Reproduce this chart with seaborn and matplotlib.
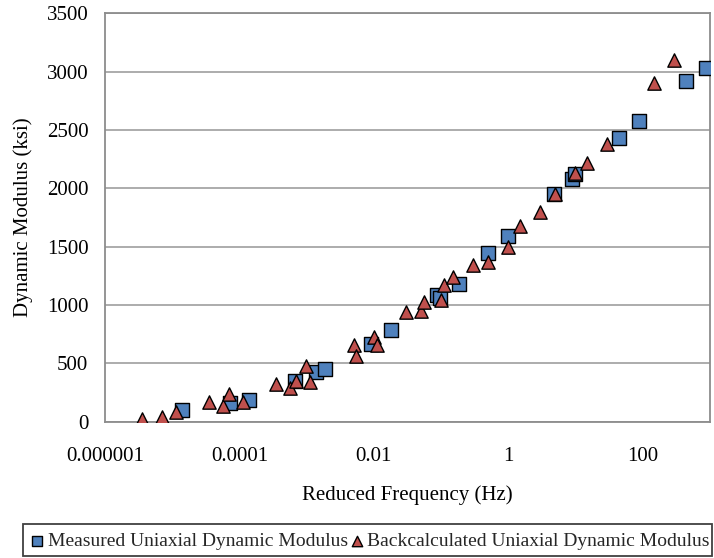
import matplotlib
matplotlib.use("Agg")
import matplotlib.pyplot as plt
import seaborn as sns
import pandas as pd
from matplotlib.ticker import FixedLocator, FixedFormatter, NullLocator
from matplotlib.patches import Rectangle
from matplotlib.transforms import Bbox

# ---- data ----
measured_freq = [1.38e-5, 7.2e-5, 1.38e-4, 6.8e-4, 1.36e-3, 1.86e-3, 9.0e-3, 0.0182,
                 0.0857, 0.095, 0.182, 0.495, 1.0, 4.86, 8.89, 9.86, 43.9, 89.1, 440, 873]
measured_mod = [100, 158, 186, 349, 428, 449, 666, 786,
                1085, 1060, 1177, 1443, 1591, 1951, 2077, 2123, 2429, 2580, 2920, 3034]

back_freq = [3.5e-6, 6.95e-6, 1.135e-5, 3.5e-5, 5.6e-5, 6.9e-5, 1.135e-4, 3.44e-4,
             5.6e-4, 6.9e-4, 9.9e-4, 1.11e-3, 5.0e-3, 5.5e-3, 9.9e-3, 0.0111,
             0.0304, 0.0495, 0.0555, 0.0984, 0.110, 0.150, 0.297, 0.495,
             0.973, 1.50, 2.98, 4.92, 9.86, 14.7, 29.4, 148.6, 295]
back_mod = [21, 43, 86, 166, 135, 235, 166, 321,
            286, 351, 480, 343, 657, 566, 723, 655,
            943, 949, 1023, 1043, 1172, 1238, 1340, 1366,
            1495, 1677, 1800, 1949, 2129, 2215, 2377, 2905, 3100]

series_names = ["Measured Uniaxial Dynamic Modulus", "Backcalculated Uniaxial Dynamic Modulus"]
x_ticks = [1e-6, 1e-4, 1e-2, 1, 100]
x_tick_labels = ["0.000001", "0.0001", "0.01", "1", "100"]
y_ticks = [0, 500, 1000, 1500, 2000, 2500, 3000, 3500]

df_m = pd.DataFrame({"freq": measured_freq, "mod": measured_mod})
df_b = pd.DataFrame({"freq": back_freq, "mod": back_mod})

sns.set_theme(style="white")
plt.rcParams["font.family"] = ["Liberation Serif", "DejaVu Serif"]

W, H = 714, 558
fig = plt.figure(figsize=(W / 100, H / 100), dpi=100)
ax = fig.add_axes([105 / W, 1 - 421.7 / H, 605 / W, 408.4 / H])

sns.scatterplot(data=df_m, x="freq", y="mod", marker="s", s=92, color="#4F81BD",
                edgecolor="black", linewidth=1.0, ax=ax, label=series_names[0], zorder=3)
sns.scatterplot(data=df_b, x="freq", y="mod", marker="^", s=92, color="#C0504D",
                edgecolor="black", linewidth=1.0, ax=ax, label=series_names[1], zorder=4)

ax.set_xscale("log")
ax.set_xlim(1e-6, 1e3)
ax.set_ylim(0, 3500)
ax.xaxis.set_major_locator(FixedLocator(x_ticks))
ax.xaxis.set_major_formatter(FixedFormatter(x_tick_labels))
ax.xaxis.set_minor_locator(NullLocator())
ax.yaxis.set_major_locator(FixedLocator(y_ticks))

ax.yaxis.grid(True, color="#A6A6A6", linewidth=1.3)
ax.xaxis.grid(False)
ax.set_axisbelow(True)
for sp in ax.spines.values():
    sp.set_color("#8C8C8C")
    sp.set_linewidth(1.3)

ax.tick_params(axis="both", which="major", direction="out", length=5, width=1.2,
               color="#8C8C8C", labelsize=15, labelcolor="black")
ax.tick_params(axis="y", pad=7)
ax.tick_params(axis="x", pad=13)

ax.set_xlabel("Reduced Frequency (Hz)", fontsize=15, labelpad=14, color="black")
ax.set_ylabel("Dynamic Modulus (ksi)", fontsize=15, labelpad=10, color="black")

handles, labels = ax.get_legend_handles_labels()
ax.get_legend().remove()

# legend frame (drawn as a box; text overflowing it is clipped like the reference)
box_l, box_r, box_t, box_b = 23, 712, 524, 556
fig.patches.append(Rectangle((box_l / W, 1 - box_b / H), (box_r - box_l) / W, (box_b - box_t) / H,
                             transform=fig.transFigure, fill=False, edgecolor="#404040",
                             linewidth=1.3, zorder=5))
leg = fig.legend(handles, labels, loc="center left", bbox_to_anchor=(27.5 / W, 1 - 541 / H),
                 ncol=2, fontsize=14, frameon=False, handletextpad=0.05, columnspacing=-0.05,
                 borderpad=0, handlelength=1.0, markerscale=0.78, borderaxespad=0)
clip = Bbox.from_extents(box_l, 0, box_r - 1.5, H - box_t)
for t in leg.get_texts():
    t.set_clip_box(clip)
    t.set_clip_on(True)

fig.savefig("out.png", dpi=100)
